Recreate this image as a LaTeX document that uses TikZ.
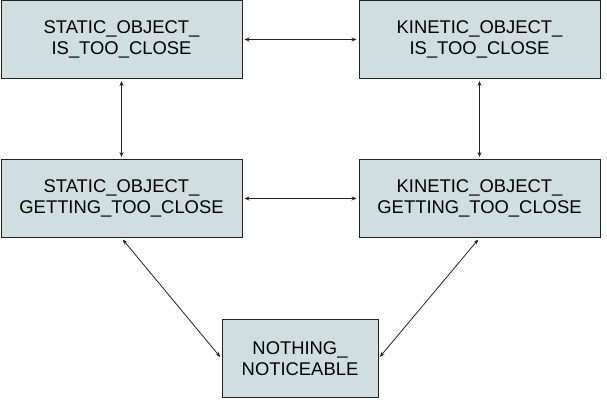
\documentclass[tikz,border=0pt]{standalone}
\usepackage{fontspec}
\setmainfont{Liberation Sans}
\usetikzlibrary{arrows.meta, positioning}
\definecolor{statefill}{RGB}{208, 222, 224}
\definecolor{stateline}{RGB}{34, 34, 34}
\tikzset{
    statebox/.style={
        rectangle, minimum width=241pt, minimum height=78pt,
        draw=stateline, fill=statefill, line width=1pt, text=black,
        font=\fontsize{18.4}{21.5}\selectfont, align=center, inner sep=0pt
    },
    smallstate/.style={statebox, minimum width=156pt},
    link/.style={{Stealth[length=5pt,width=4pt]}-{Stealth[length=5pt,width=4pt]}, line width=0.8pt, color=stateline, shorten <=2pt, shorten >=2pt},
}
\begin{document}
\begin{tikzpicture}[x=1pt, y=-1pt]
        \useasboundingbox (0,0) rectangle (607,405);
        \node[statebox] (staticclose) at (121.5,39.5) {STATIC\_OBJECT\_\\IS\_TOO\_CLOSE};
        \node[statebox] (kineticclose) at (479.5,39.5) {KINETIC\_OBJECT\_\\IS\_TOO\_CLOSE};
        \node[statebox] (staticgetting) at (121.5,198.5) {STATIC\_OBJECT\_\\GETTING\_TOO\_CLOSE};
        \node[statebox] (kineticgetting) at (479.5,198.5) {KINETIC\_OBJECT\_\\GETTING\_TOO\_CLOSE};
        \node[smallstate] (nothing) at (300,358.5) {NOTHING\_\\NOTICEABLE};
        \draw[link] (staticclose) -- (kineticclose);
        \draw[link] (staticclose) -- (staticgetting);
        \draw[link] (kineticclose) -- (kineticgetting);
        \draw[link] (staticgetting) -- (kineticgetting);
        \draw[link] (staticgetting.south) -- (nothing.west);
        \draw[link] (kineticgetting.south) -- (nothing.east);
    \end{tikzpicture}
\end{document}
